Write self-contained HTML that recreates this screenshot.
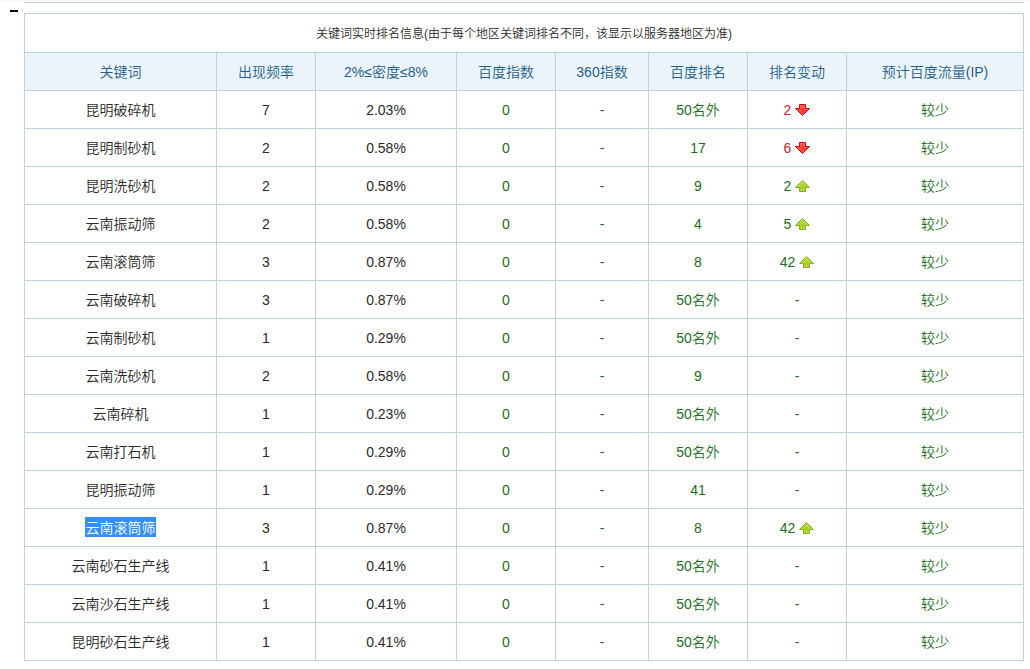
<!DOCTYPE html>
<html><head><meta charset="utf-8">
<style>
html,body{margin:0;padding:0;background:#fff;}
body{width:1030px;height:669px;overflow:hidden;position:relative;font-family:"Liberation Sans","Noto Sans CJK SC",sans-serif;font-size:14px;color:#2b2b2b;font-weight:350;}
.topstrip{position:absolute;left:0;top:0;width:1030px;height:2px;background:#f8f7f5;}
.topline{position:absolute;left:24px;top:2px;width:1000px;height:1px;background:#bfd1db;}
.dash{position:absolute;left:10px;top:10px;width:8px;height:2px;background:#000;}
table{position:absolute;left:24px;top:13px;border-collapse:separate;border-spacing:0;table-layout:fixed;width:1000px;border-left:1px solid #bcd2dd;border-top:1px solid #bcd2dd;}
td,th{box-sizing:border-box;line-height:20px;border-right:1px solid #bcd2dd;border-bottom:1px solid #bcd2dd;padding:0;text-align:center;font-weight:inherit;height:38px;white-space:nowrap;}
tr.cap td{height:39px;padding-top:2px;font-size:12px;color:#2b2b2b;}
tr.hd th{background:#ebf4fb;color:#1f5f8b;}
.g{color:#1b6e1b;}
.r{color:#c8262e;}
.sel{background:#338ff5;color:#fff;padding:3px 0 1px 0;box-shadow:-1px 0 0 #338ff5;}
.arr{display:inline-block;width:15px;height:12px;vertical-align:-1px;margin-left:4px;}
</style></head>
<body>
<svg width="0" height="0" style="position:absolute"><defs><radialGradient id="gr" cx="0.5" cy="0.55" r="0.6"><stop offset="0" stop-color="#ff3322"/><stop offset="1" stop-color="#ff7468"/></radialGradient><radialGradient id="gg" cx="0.5" cy="0.6" r="0.6"><stop offset="0" stop-color="#9dcc1a"/><stop offset="1" stop-color="#c6e862"/></radialGradient></defs></svg>
<div class="topstrip"></div>
<div class="topline"></div>
<div class="dash"></div>
<table>
<colgroup><col style="width:192px"><col style="width:99px"><col style="width:141px"><col style="width:99px"><col style="width:93px"><col style="width:99px"><col style="width:99px"><col style="width:177px"></colgroup>
<tr class="cap"><td colspan="8">关键词实时排名信息(由于每个地区关键词排名不同，该显示以服务器地区为准)</td></tr>
<tr class="hd"><th>关键词</th><th>出现频率</th><th>2%≤密度≤8%</th><th>百度指数</th><th>360指数</th><th>百度排名</th><th>排名变动</th><th>预计百度流量(IP)</th></tr>
<tr><td>昆明破碎机</td><td>7</td><td>2.03%</td><td class="g">0</td><td class="g">-</td><td class="g">50名外</td><td class="r">2<svg class="arr" viewBox="0 0 15 12"><path d="M4.5 0.5H10.5V4.5H14.5L7.5 11.5L0.5 4.5H4.5Z" fill="url(#gr)" stroke="#c00e0e"/></svg></td><td class="g">较少</td></tr>
<tr><td>昆明制砂机</td><td>2</td><td>0.58%</td><td class="g">0</td><td class="g">-</td><td class="g">17</td><td class="r">6<svg class="arr" viewBox="0 0 15 12"><path d="M4.5 0.5H10.5V4.5H14.5L7.5 11.5L0.5 4.5H4.5Z" fill="url(#gr)" stroke="#c00e0e"/></svg></td><td class="g">较少</td></tr>
<tr><td>昆明洗砂机</td><td>2</td><td>0.58%</td><td class="g">0</td><td class="g">-</td><td class="g">9</td><td class="g">2<svg class="arr" viewBox="0 0 15 12"><path d="M7.5 0.5L14.5 7.5H10.5V11.5H4.5V7.5H0.5Z" fill="url(#gg)" stroke="#8aab1c"/></svg></td><td class="g">较少</td></tr>
<tr><td>云南振动筛</td><td>2</td><td>0.58%</td><td class="g">0</td><td class="g">-</td><td class="g">4</td><td class="g">5<svg class="arr" viewBox="0 0 15 12"><path d="M7.5 0.5L14.5 7.5H10.5V11.5H4.5V7.5H0.5Z" fill="url(#gg)" stroke="#8aab1c"/></svg></td><td class="g">较少</td></tr>
<tr><td>云南滚筒筛</td><td>3</td><td>0.87%</td><td class="g">0</td><td class="g">-</td><td class="g">8</td><td class="g">42<svg class="arr" viewBox="0 0 15 12"><path d="M7.5 0.5L14.5 7.5H10.5V11.5H4.5V7.5H0.5Z" fill="url(#gg)" stroke="#8aab1c"/></svg></td><td class="g">较少</td></tr>
<tr><td>云南破碎机</td><td>3</td><td>0.87%</td><td class="g">0</td><td class="g">-</td><td class="g">50名外</td><td class="g">-</td><td class="g">较少</td></tr>
<tr><td>云南制砂机</td><td>1</td><td>0.29%</td><td class="g">0</td><td class="g">-</td><td class="g">50名外</td><td class="g">-</td><td class="g">较少</td></tr>
<tr><td>云南洗砂机</td><td>2</td><td>0.58%</td><td class="g">0</td><td class="g">-</td><td class="g">9</td><td class="g">-</td><td class="g">较少</td></tr>
<tr><td>云南碎机</td><td>1</td><td>0.23%</td><td class="g">0</td><td class="g">-</td><td class="g">50名外</td><td class="g">-</td><td class="g">较少</td></tr>
<tr><td>云南打石机</td><td>1</td><td>0.29%</td><td class="g">0</td><td class="g">-</td><td class="g">50名外</td><td class="g">-</td><td class="g">较少</td></tr>
<tr><td>昆明振动筛</td><td>1</td><td>0.29%</td><td class="g">0</td><td class="g">-</td><td class="g">41</td><td class="g">-</td><td class="g">较少</td></tr>
<tr><td><span class="sel">云南滚筒筛</span></td><td>3</td><td>0.87%</td><td class="g">0</td><td class="g">-</td><td class="g">8</td><td class="g">42<svg class="arr" viewBox="0 0 15 12"><path d="M7.5 0.5L14.5 7.5H10.5V11.5H4.5V7.5H0.5Z" fill="url(#gg)" stroke="#8aab1c"/></svg></td><td class="g">较少</td></tr>
<tr><td>云南砂石生产线</td><td>1</td><td>0.41%</td><td class="g">0</td><td class="g">-</td><td class="g">50名外</td><td class="g">-</td><td class="g">较少</td></tr>
<tr><td>云南沙石生产线</td><td>1</td><td>0.41%</td><td class="g">0</td><td class="g">-</td><td class="g">50名外</td><td class="g">-</td><td class="g">较少</td></tr>
<tr><td>昆明砂石生产线</td><td>1</td><td>0.41%</td><td class="g">0</td><td class="g">-</td><td class="g">50名外</td><td class="g">-</td><td class="g">较少</td></tr>
</table>
</body></html>
